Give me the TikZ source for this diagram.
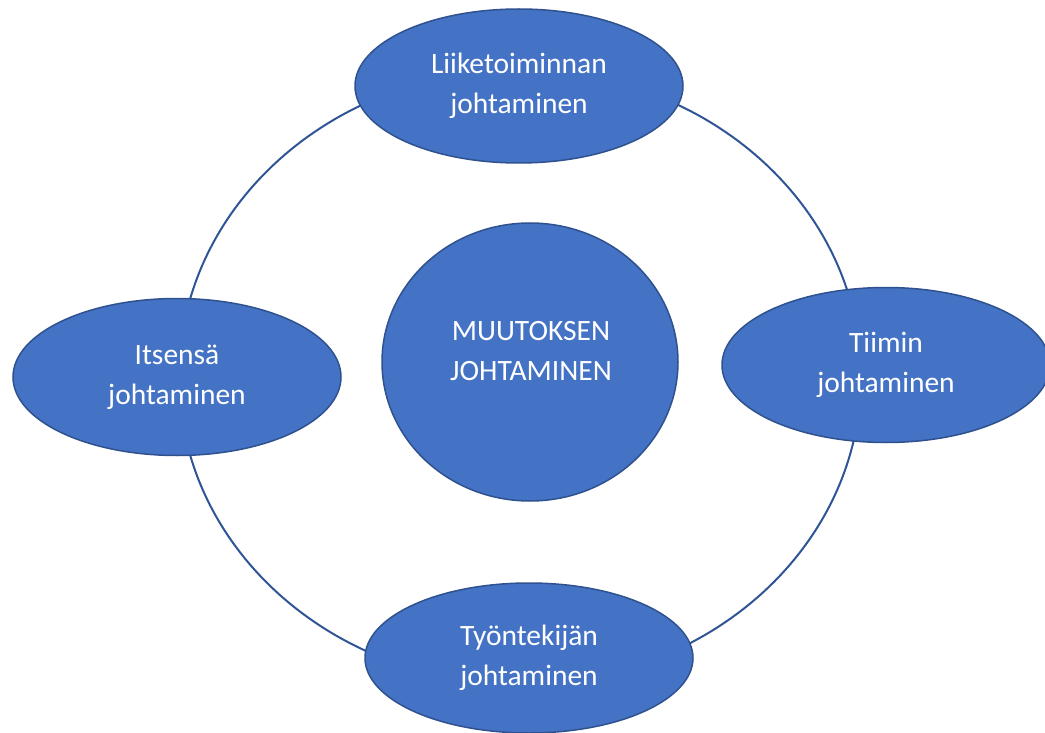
\documentclass[tikz,border=0pt]{standalone}
\usepackage{fontspec}
\setmainfont{Carlito}
\usetikzlibrary{shapes.geometric}
\definecolor{boxfill}{HTML}{4472C4}
\definecolor{boxline}{HTML}{2F528F}
\definecolor{ringline}{HTML}{2F5597}
\tikzset{
  bubble/.style={ellipse, draw=boxline, line width=1.5pt, fill=boxfill, inner sep=0pt,
    text=white, align=center, font=\fontsize{29.5}{40}\selectfont},
  ringshape/.style={ellipse, draw=ringline, line width=2pt, inner sep=0pt}
}
\begin{document}
\begin{tikzpicture}[x=1pt,y=-1pt]
\useasboundingbox (0,0) rectangle (1045,733);
\clip (0,0) rectangle (1045,733);
\node[ringshape, minimum width=682pt, minimum height=614pt] (ring) at (520,377) {};
\node[bubble, minimum width=328pt, minimum height=154pt] (top) at (519,86) {Liiketoiminnan\\johtaminen};
\node[bubble, minimum width=328pt, minimum height=157pt] (left) at (177,377) {Itsensä\\johtaminen};
\node[bubble, minimum width=328pt, minimum height=155pt] (right) at (886,365) {Tiimin\\johtaminen};
\node[bubble, minimum width=328pt, minimum height=150pt] (bottom) at (529,658) {Työntekijän\\johtaminen};
\node[bubble, minimum width=296pt, minimum height=278pt] (center) at (530,362) {};
\node[text=white, align=center, font=\fontsize{29.5}{40}\selectfont, inner sep=0pt] (centertext) at (531,351) {MUUTOKSEN\\JOHTAMINEN};
\end{tikzpicture}
\end{document}
